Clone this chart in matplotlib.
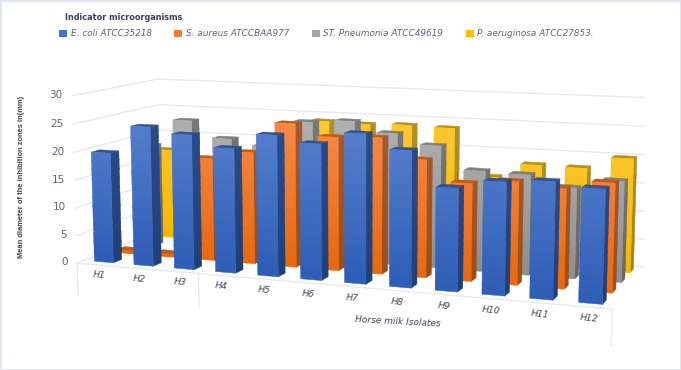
#!/usr/bin/env python3
"""3D clustered bars: inhibition zones of horse milk isolates per indicator strain."""

import numpy as np
import matplotlib
matplotlib.use("Agg")
import matplotlib.pyplot as plt
from matplotlib.colors import to_rgb
from matplotlib.patches import Patch, Rectangle
from mpl_toolkits.mplot3d import proj3d

ISOLATES = ["H1", "H2", "H3", "H4", "H5", "H6", "H7", "H8", "H9", "H10", "H11", "H12"]
SERIES = ["E. coli ATCC35218", "S. aureus ATCCBAA977",
          "ST. Pneumonia ATCC49619", "P. aeruginosa ATCC27853."]
Z_TICKS = [0, 5, 10, 15, 20, 25, 30]

E_COLI = [19.8, 24.8, 23.8, 21.8, 24.5, 23.4, 25.5, 23.1, 17.3, 18.8, 19.3, 18.6]
S_AUREUS = [0.5, 0.5, 18.5, 20, 25.5, 23.5, 23.8, 20.4, 16.8, 17.6, 16.9, 18.3]
ST_PNEUMONIA = [19, 24, 21, 20, 24.8, 25.3, 23.5, 21.7, 17.7, 17.5, 15.7, 17.3]
P_AERUGINOSA = [17, 15, 15, 17, 24, 23.8, 24, 23.8, 15.4, 18, 17.9, 20]
VALUES = [E_COLI, S_AUREUS, ST_PNEUMONIA, P_AERUGINOSA]

# (front top, front bottom, side top, side bottom, cap) per series
SHADES = [
    ("#5c84d0", "#2e5db6", "#2b4f8e", "#1f3f78", "#2f5597"),
    ("#f78f50", "#e8680f", "#a85c30", "#9a4e18", "#c55a11"),
    ("#b7b7b7", "#8e8e8e", "#7c7c7c", "#666666", "#808080"),
    ("#ffcb3d", "#f5b800", "#b8922c", "#a8820f", "#bf9000"),
]
LEGEND_COLORS = ["#4472c4", "#ed7d31", "#a5a5a5", "#ffc000"]

GRID = "#e6e8f0"
TEXT = "#60647a"
TITLE = "#3b4256"
CLEAR = (0, 0, 0, 0)

W, H = 681, 370
SCALE, TX, TY = 3153.12, 360.77, 181.78  # projected units -> pixels
BAR_W, BAR_D = 0.48, 0.38
N_SLICES = 12


def mix(c0, c1, t):
    return (1 - t) * np.array(to_rgb(c0)) + t * np.array(to_rgb(c1))


def draw_bar(ax, x, y, height, shades, order):
    """One bar as a stack of slices so the faces can fade top to bottom."""
    ftop, fbot, stop, sbot, cap = shades
    edges = np.linspace(0, height, N_SLICES + 1)
    for k in range(N_SLICES):
        t = (k + 0.5) / N_SLICES * height / 30
        front = (*mix(fbot, ftop, t), 1)
        side = (*mix(sbot, stop, t), 1)
        last = k == N_SLICES - 1
        top = (*to_rgb(cap), 1) if last else CLEAR
        # run each slice a little into the next one to hide the seams
        dz = edges[k + 1] - edges[k] + (0 if last else 0.25)
        # faces: bottom, top, front, back, left, right
        colors = [CLEAR, top, front, CLEAR, CLEAR, side]
        ax.bar3d(x - BAR_W / 2, y - BAR_D / 2, edges[k], BAR_W, BAR_D, dz,
                 color=colors, shade=False, edgecolor=colors, linewidth=0.3,
                 zorder=order + k * 0.01)


def label3d(ax, x, y, z, s, **kw):
    """Write text at a data position, projected once the view is set."""
    xp, yp, _ = proj3d.proj_transform(x, y, z, ax.get_proj())
    ax.text2D(xp, yp, s, transform=ax.transData, **kw)


def main():
    fig = plt.figure(figsize=(W / 100, H / 100), dpi=100)
    x0, x1, y0 = -0.095, 0.09, -0.095
    side = SCALE * (x1 - x0)
    left = TX + SCALE * x0
    bottom = H - TY + SCALE * y0
    ax = fig.add_axes([left / W, bottom / H, side / W, side / H], projection="3d")
    ax.computed_zorder = False
    ax.set_axis_off()

    # Back row first; within a row left bars are further from the eye.
    order = 10
    for row in range(3, -1, -1):
        for col, val in enumerate(VALUES[row]):
            draw_bar(ax, col + 0.5, row + 0.5, val, SHADES[row], order)
            order += 1

    for z in Z_TICKS:
        ax.plot([0, 0], [0, 4], [z, z], color=GRID, lw=1.0, zorder=1)
        ax.plot([0, 12], [4, 4], [z, z], color=GRID, lw=1.0, zorder=1)
    ax.plot([0, 12], [0, 0], [0, 0], color=GRID, lw=1.0, zorder=1)

    # Two-level category axis: dividers under the front edge.
    for x in (0, 3, 12):
        ax.plot([x, x], [0, 0], [0, -6], color=GRID, lw=1.0, zorder=1)

    ax.set_xlim(0, 12)
    ax.set_ylim(0, 4)
    ax.set_zlim(0, 30)
    ax.set_box_aspect((3.2050, 1.0698, 1))
    ax.set_proj_type("persp", focal_length=0.4852)
    ax.view_init(9.456, -69.728)

    for z in Z_TICKS:
        label3d(ax, -0.24, 0, z, str(z), color=TEXT, fontsize=7.5, ha="right", va="center")
    for i, name in enumerate(ISOLATES):
        label3d(ax, i + 0.55, 0, -1.9, name, color=TITLE, fontsize=6.5, style="italic",
                ha="center", va="center", rotation=-6)
    label3d(ax, 7.55, 0, -5.3, "Horse milk Isolates", color=TITLE, fontsize=6.5,
            style="italic", ha="center", va="center", rotation=-3)

    fig.text(22 / W, 1 - 177 / H, "Mean diameter of the inhibition zones in(mm)",
             rotation=90, ha="center", va="center", color=TITLE, fontsize=5.4,
             family="Liberation Sans", fontweight="bold")
    fig.text(65 / W, 1 - 18 / H, "Indicator microorganisms", color=TITLE,
             fontsize=5.9, fontweight="bold", ha="left", va="center")
    handles = [Patch(facecolor=c, label=s) for c, s in zip(LEGEND_COLORS, SERIES)]
    fig.legend(handles=handles, loc="center left", ncol=4, frameon=False,
               bbox_to_anchor=(59 / W, 1 - 34 / H), prop={"size": 6.4, "style": "italic"},
               labelcolor=TEXT, handlelength=0.9, handleheight=0.8,
               handletextpad=0.4, columnspacing=2.55, borderpad=0, borderaxespad=0)

    fig.add_artist(Rectangle((0, 0), 1, 1, transform=fig.transFigure, fill=False,
                             edgecolor="#dfe5ee", lw=2))
    fig.savefig("out.png", dpi=100, facecolor="white")


if __name__ == "__main__":
    main()
